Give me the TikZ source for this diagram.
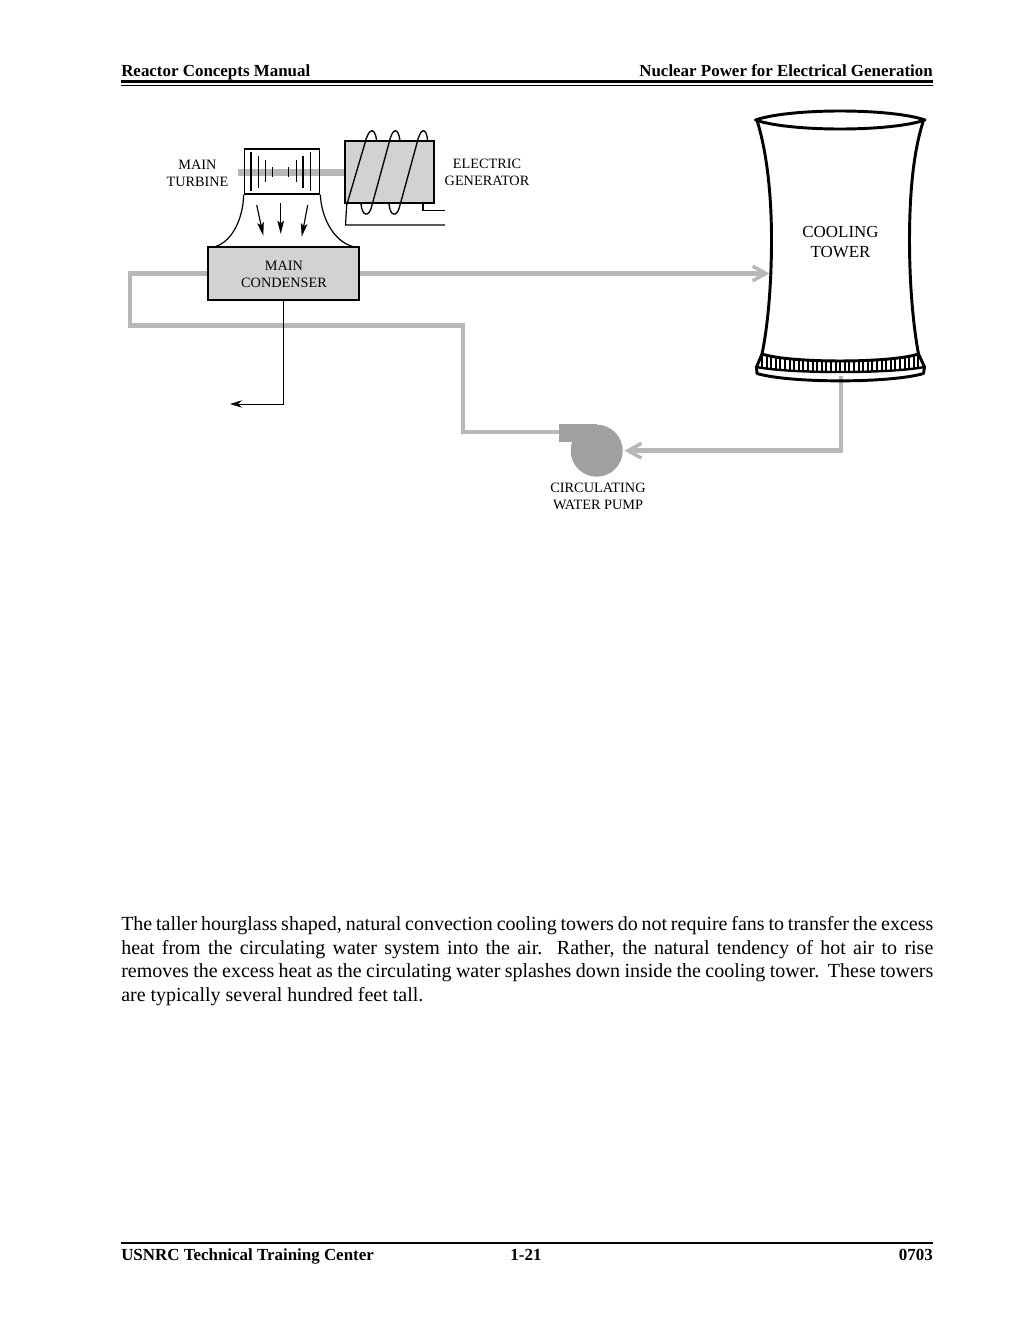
\documentclass[tikz,border=0pt]{standalone}
\usepackage{fontspec}
\setmainfont{Liberation Serif}
\usetikzlibrary{arrows.meta,calc}
\definecolor{pipegray}{HTML}{B8B8B8}
\definecolor{boxgray}{HTML}{D2D2D2}
\definecolor{pumpgray}{HTML}{A0A0A0}
\tikzset{
  pipe/.style={draw=pipegray,line width=3.6pt,line join=miter},
  pipetip/.style={-{Straight Barb[length=10pt,width=11pt,line width=2.6pt]}},
  unit/.style={draw=black,inner sep=0pt,fill=boxgray},
  lab/.style={font=\fontsize{10.7}{12.75}\selectfont,align=center,inner sep=0pt},
  bigl/.style={font=\fontsize{12.7}{15}\selectfont,align=center,inner sep=0pt},
  head/.style={font=\fontsize{12.7}{15}\selectfont\bfseries,inner sep=0pt},
  blade/.style={line width=1.1pt},
  coil/.style={line width=1pt},
  thinarrow/.style={line width=0.75pt,-{Stealth[length=9pt,width=5.5pt,inset=3pt]}},
  towerline/.style={line width=2.2pt,line join=round}
}
\begin{document}
\begin{tikzpicture}[x=0.75pt,y=-0.75pt]
\useasboundingbox (0,0) rectangle (1023,1324);
\fill[white] (0,0) rectangle (1023,1324);
% page header
\node[head,anchor=base west] (hl) at (121,76.5) {Reactor Concepts Manual};
\node[head,anchor=base east] (hr) at (933,76.5) {Nuclear Power for Electrical Generation};
\coordinate (rl) at (121,81.5); \coordinate (rr) at (933,81.5);
\coordinate (sl) at (121,85.5); \coordinate (sr) at (933,85.5);
\draw[line width=2pt] (rl) -- (rr);
\draw[line width=0.8pt] (sl) -- (sr);
% pipes' fixed points
\coordinate (b1) at (130,273.5);
\coordinate (b2) at (130,325.5);
\coordinate (b3) at (463,325.5);
\coordinate (b4) at (463,432);
\coordinate (towerin) at (769.5,273.5);
\coordinate (towerout) at (841,376);
\coordinate (b5) at (841,450.7);
% pump
\fill[pumpgray] (559.3,424) rectangle (596.7,441.7);
\node[circle,fill=pumpgray,minimum size=39pt,inner sep=0pt] (pump) at (596.7,450.7) {};
\coordinate (pumpout) at (559.3,432);
\coordinate (pumpin) at (624.5,450.7);
% main condenser
\node[unit,line width=1.4pt,minimum width=113.25pt,minimum height=40pt] (cond) at (283.8,273.4) {};
\draw[pipe] (cond.west |- b1) -- (b1) -- (b2) -- (b3) -- (b4) -- (pumpout);
\draw[pipe,pipetip] (cond.east |- towerin) -- (towerin);
\draw[pipe,pipetip] (towerout) -- (b5) -- (pumpin);
\node[lab] (condl) at (284,274) {MAIN\\CONDENSER};
% drain
\coordinate (d1) at (283.7,404);
\coordinate (d2) at (230,404);
\draw[thinarrow] (cond.south -| d1) -- (d1) -- (d2);
% shaft, turbine, generator
\node[unit,line width=0.8pt,minimum width=66.75pt,minimum height=46.5pt] (gen) at (389.5,172) {};
\coordinate (s0) at (238,172.5);
\draw[draw=pipegray,line width=5pt] (s0) -- (gen.west |- s0);
\node[draw=black,line width=0.8pt,inner sep=0pt,minimum width=56.8pt,minimum height=33.75pt] (turb) at (282,171.5) {};
\foreach \x/\a/\b in {251/152.3/190.7,258.3/155.7/188.3,265.3/160/182.3,272.7/167/177.3,288.7/167/177.3,296.3/160/182.3,303/155.7/188.3,310.7/152.3/190.7}
  \draw[blade] (\x,\a) -- (\x,\b);
% funnel
\coordinate (fl) at (215,246.7);
\coordinate (fr) at (353.3,246.7);
\draw[line width=0.9pt] (turb.south west) .. controls (243.5,215) and (234,241) .. (fl);
\draw[line width=0.9pt] (turb.south east) .. controls (321,215) and (332,241) .. (fr);
\foreach \a/\b/\c/\d in {256.7/205/263.3/235.7,280.7/203.3/280.7/234,307.7/205/301.7/236.7}
  \draw[line width=0.85pt,-{Stealth[length=10pt,width=5pt,inset=2pt]}] (\a,\b) -- (\c,\d);
% generator coil
\coordinate (c0) at (346.7,205);
\draw[coil] (c0) -- (365,143) .. controls (369,127) and (375,127) .. (376.7,141);
\draw[coil] (361,203.7) .. controls (362,217) and (369,217) .. (371.5,207) -- (389,143) .. controls (392.5,127) and (398.5,127) .. (400,141);
\draw[coil] (389,203.7) .. controls (390,217) and (397,217) .. (399.5,207) -- (417,143) .. controls (420.5,127) and (426.5,127) .. (427.7,141);
\coordinate (l1) at (345.5,225);
\coordinate (l2) at (445,225);
\coordinate (l3) at (423,203);
\coordinate (l4) at (423,210.5);
\coordinate (l5) at (445,210.5);
\draw[line width=0.9pt] (c0) -- (l1) -- (l2);
\draw[line width=0.9pt] (l3) -- (l4) -- (l5);
\node[lab] (tl) at (197.5,173) {MAIN\\TURBINE};
\node[lab] (gl) at (487,172) {ELECTRIC\\GENERATOR};
\node[lab] (pl) at (598,496) {CIRCULATING\\WATER PUMP};
% cooling tower
\coordinate (tl1) at (755.5,120);
\coordinate (tr1) at (925,120);
\coordinate (bl1) at (762,354);
\coordinate (br1) at (918.5,354);
\fill[white] (tl1) .. controls (764,150) and (771,190) .. (771,240) .. controls (771,290) and (767,330) .. (bl1)
  -- (br1) .. controls (914,330) and (910,290) .. (910,240) .. controls (910,190) and (917,150) .. (tr1) -- cycle;
\draw[towerline] (tl1) .. controls (790,108) and (890,108) .. (tr1) .. controls (890,132) and (790,132) .. (tl1) -- cycle;
\draw[towerline] (757.5,122) .. controls (766,150) and (771.5,190) .. (771.5,240) .. controls (771.5,290) and (767,330) .. (bl1);
\draw[towerline] (923,122) .. controls (914,150) and (909.5,190) .. (909.5,240) .. controls (909.5,290) and (914,330) .. (br1);
\foreach \i in {0,...,34} {
  \pgfmathsetmacro{\xx}{762+\i*4.6}
  \pgfmathsetmacro{\uu}{(\xx-840)/84}
  \pgfmathsetmacro{\ya}{354+7*(1-\uu*\uu)}
  \pgfmathsetmacro{\yb}{367+5*(1-\uu*\uu)}
  \draw[line width=1.4pt] (\xx,\ya) -- (\xx,\yb);
}
\draw[towerline] (bl1) .. controls (790,363.3) and (890,363.3) .. (br1);
\draw[towerline] (bl1) -- (756.5,367) -- (757,373.5) .. controls (790,383.3) and (890,383.3) .. (923.5,373.5) -- (924.5,367) -- (br1);
\draw[line width=1.8pt] (756.5,367) .. controls (790,373.7) and (890,373.7) .. (924.5,367);
\node[bigl] (cl) at (840.5,242.5) {COOLING\\TOWER};
% body
\node[anchor=north west,inner sep=0pt,text width=609pt,align=justify,font=\fontsize{15}{17.62}\selectfont] (body) at (121,916.5) {\spaceskip=.25em plus .3em minus .2em\xspaceskip=.25em plus .3em minus .2em The taller hourglass shaped, natural convection cooling towers do not require fans to transfer the excess\linebreak heat from the circulating water system into the air.\ \ Rather, the natural tendency of hot air to rise\linebreak removes the excess heat as the circulating water splashes down inside the cooling tower.\ \ These towers\linebreak are typically several hundred feet tall.};
% footer
\coordinate (fa) at (121,1243); \coordinate (fb) at (933,1243);
\draw[line width=2pt] (fa) -- (fb);
\node[head,anchor=base west] (f1) at (121,1260) {USNRC Technical Training Center};
\node[head,anchor=base] (f2) at (526,1260) {1-21};
\node[head,anchor=base east] (f3) at (933,1260) {0703};
\end{tikzpicture}
\end{document}
